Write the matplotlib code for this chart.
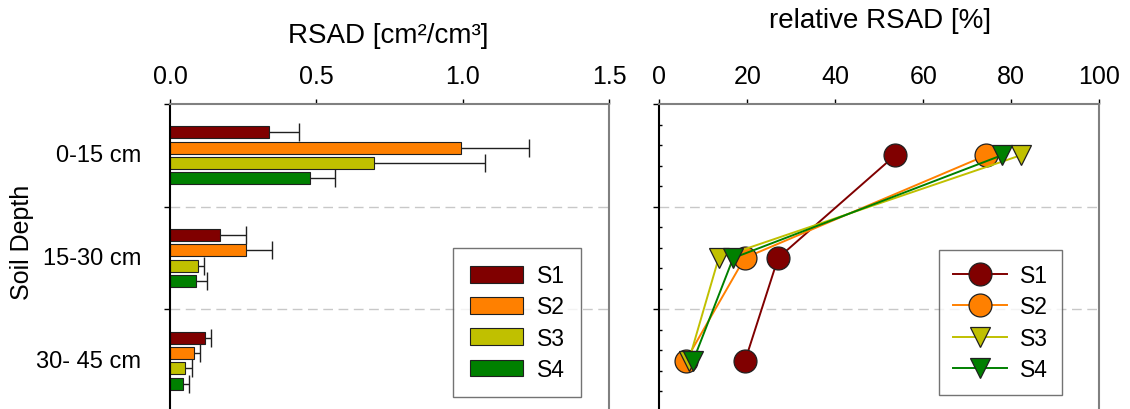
import matplotlib
matplotlib.use("Agg")
import matplotlib.pyplot as plt
import numpy as np
from matplotlib.ticker import MultipleLocator

plt.rcParams["font.family"] = ["Liberation Sans", "DejaVu Sans"]

depth_labels = ["0-15 cm", "15-30 cm", "30- 45 cm"]
depth_mid = [7.5, 22.5, 37.5]
series = ["S1", "S2", "S3", "S4"]
colors = ["#800000", "#ff8000", "#c0c000", "#008000"]

# RSAD [cm2/cm3] per depth (mean and upper error)
rsad_s1 = [0.339, 0.171, 0.121]
rsad_s2 = [0.995, 0.258, 0.083]
rsad_s3 = [0.697, 0.097, 0.052]
rsad_s4 = [0.477, 0.088, 0.044]
err_s1 = [0.102, 0.090, 0.020]
err_s2 = [0.231, 0.089, 0.019]
err_s3 = [0.380, 0.019, 0.024]
err_s4 = [0.086, 0.039, 0.021]

# relative RSAD [%]
rel_s1 = [53.6, 27.0, 19.5]
rel_s2 = [74.3, 19.4, 6.0]
rel_s3 = [82.1, 13.5, 6.7]
rel_s4 = [77.8, 16.8, 7.7]

rsad = [rsad_s1, rsad_s2, rsad_s3, rsad_s4]
errs = [err_s1, err_s2, err_s3, err_s4]
rel = [rel_s1, rel_s2, rel_s3, rel_s4]
markers = ["o", "o", "v", "v"]

W, H = 1130, 410
fig = plt.figure(figsize=(W / 100, H / 100), dpi=100)

ax1 = fig.add_axes([170 / W, 1 - 413 / H, 439.3 / W, 308 / H])
ax2 = fig.add_axes([659.3 / W, 1 - 413 / H, 440 / W, 308 / H])

dash_kw = dict(color="#c8c8c8", lw=1, dashes=(7, 4), zorder=0)

# left: horizontal bars with one-sided error bars
offsets = np.array([-3.35, -1.12, 1.12, 3.35])
ymid = np.array(depth_mid)
for i in range(4):
    y = ymid + offsets[i]
    vals = np.array(rsad[i])
    tips = vals + np.array(errs[i])
    ax1.barh(y, vals, height=1.75, color=colors[i], edgecolor="#202020",
             linewidth=0.8, label=series[i], zorder=2)
    ax1.hlines(y, vals, tips, color="#202020", lw=1, zorder=1)
    ax1.plot(tips, y, ls="none", marker="|", markersize=13, mew=1,
             color="#202020", zorder=1)

for d in (15, 30):
    ax1.axhline(d, **dash_kw)
    ax2.axhline(d, **dash_kw)

ax1.set_xlim(0, 1.5)
ax1.set_ylim(45, 0)
ax1.set_xticks([0, 0.5, 1.0, 1.5])
ax1.set_xticklabels(["0.0", "0.5", "1.0", "1.5"])
ax1.set_yticks([0, 15, 30, 45])
ax1.set_yticklabels([])
for y, lab in zip(depth_mid, depth_labels):
    ax1.text(-29 / 439.3, y, lab, transform=ax1.get_yaxis_transform(),
             ha="right", va="center", fontsize=17)

# right: relative profile
for i in range(4):
    ms = 16.5 if markers[i] == "o" else 15
    ax2.plot(rel[i], depth_mid, color=colors[i], lw=1.4, marker=markers[i],
             markersize=ms, markerfacecolor=colors[i], markeredgecolor="#202020",
             markeredgewidth=0.9, label=series[i], zorder=3 + i)

ax2.set_xlim(0, 100)
ax2.set_ylim(45, 0)
ax2.set_xticks([0, 20, 40, 60, 80, 100])
ax2.set_yticks([0, 15, 30, 45])
ax2.set_yticklabels([])
ax2.yaxis.set_minor_locator(MultipleLocator(3))
ax2.tick_params(axis="y", which="minor", direction="in", length=2.5, width=1)

for ax in (ax1, ax2):
    ax.xaxis.tick_top()
    ax.tick_params(axis="x", which="major", direction="out", length=3.5,
                   width=1, labelsize=18, pad=8)
    ax.tick_params(axis="y", which="major", direction="out", length=4, width=1)
    ax.spines["left"].set_color("black")
    ax.spines["left"].set_linewidth(1.5)
    for s in ("top", "right"):
        ax.spines[s].set_color("#808080")
        ax.spines[s].set_linewidth(1.5)
    ax.spines["bottom"].set_visible(False)

leg_kw = dict(fontsize=16.5, frameon=True, fancybox=False, borderaxespad=0,
              bbox_transform=fig.transFigure, loc="upper left")
leg1 = ax1.legend(bbox_to_anchor=(453.3 / W, 1 - 248.7 / H),
                  handlelength=2.3, handleheight=0.75, handletextpad=0.62,
                  labelspacing=0.36, borderpad=0.72, **leg_kw)
leg2 = ax2.legend(bbox_to_anchor=(938.7 / W, 1 - 251 / H),
                  handlelength=2.35, handletextpad=0.58, labelspacing=0.36,
                  borderpad=0.62, **leg_kw)
for leg in (leg1, leg2):
    leg.get_frame().set_edgecolor("#505050")
    leg.get_frame().set_linewidth(1)

fig.text(388 / W, 1 - 36 / H, "RSAD [cm²/cm³]", ha="center", va="center", fontsize=20)
fig.text(880 / W, 1 - 21 / H, "relative RSAD [%]", ha="center", va="center", fontsize=20)
fig.text(22.5 / W, 1 - 242 / H, "Soil Depth", rotation=90, ha="center",
         va="center", fontsize=18)

fig.savefig("out.png", dpi=100)
